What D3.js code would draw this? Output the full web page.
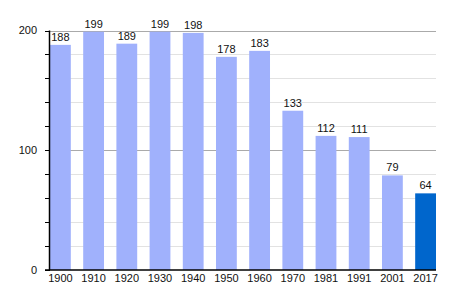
<!DOCTYPE html>
<html>
<head>
<meta charset="utf-8">
<script src="https://cdn.jsdelivr.net/npm/d3@7"></script>
<style>
body { margin: 0; background: #fff; }
text { font-family: "Liberation Sans", Arial, sans-serif; font-size: 11px; fill: #111; }
</style>
</head>
<body>
<svg width="464" height="300"></svg>
<script>
const years = ["1900", "1910", "1920", "1930", "1940", "1950", "1960", "1970", "1981", "1991", "2001", "2017"]
const population = [188, 199, 189, 199, 198, 178, 183, 133, 112, 111, 79, 64]
const y_ticks = [0, 100, 200]

const bar_color = "#a0b1fc"
const last_color = "#0066cc"

const plot_left = 50, plot_right = 436, plot_top = 30.5, plot_bottom = 270

var svg = d3.select("svg")

const x = d3.scaleBand()
    .domain(years)
    .range([plot_left, plot_right])
    .paddingInner(0.373)
    .paddingOuter(0)

const y = d3.scaleLinear()
    .domain([0, 200])
    .range([plot_bottom, plot_top])

// grid lines every 20
svg.append("g")
    .selectAll("line")
    .data(d3.range(20, 201, 20))
    .enter()
    .append("line")
    .attr("x1", plot_left)
    .attr("x2", plot_right)
    .attr("y1", d => Math.round(y(d)) + 0.5)
    .attr("y2", d => Math.round(y(d)) + 0.5)
    .attr("stroke", d => d % 100 === 0 ? "#aaaaaa" : "#e2e2e2")
    .attr("stroke-width", 1)

svg.append("g")
    .selectAll("rect")
    .data(population)
    .enter()
    .append("rect")
    .attr("x", (d, i) => x(years[i]))
    .attr("y", d => y(d))
    .attr("width", x.bandwidth())
    .attr("height", d => plot_bottom - y(d))
    .attr("fill", (d, i) => i === years.length - 1 ? last_color : bar_color)

svg.append("g")
    .selectAll("text")
    .data(population)
    .enter()
    .append("text")
    .attr("x", (d, i) => x(years[i]) + x.bandwidth() / 2)
    .attr("y", d => y(d) - 4)
    .attr("text-anchor", "middle")
    .text(d => d)

// y axis
const y_axis = svg.append("g")
y_axis.append("line")
    .attr("x1", plot_left - 0.5).attr("x2", plot_left - 0.5)
    .attr("y1", plot_top).attr("y2", plot_bottom)
    .attr("stroke", "#000").attr("stroke-width", 1.5)
y_axis.selectAll("line.tick")
    .data(d3.range(0, 201, 20))
    .enter()
    .append("line")
    .attr("class", "tick")
    .attr("x1", plot_left - 5).attr("x2", plot_left)
    .attr("y1", d => Math.round(y(d)) + 0.5)
    .attr("y2", d => Math.round(y(d)) + 0.5)
    .attr("stroke", "#000")
y_axis.selectAll("text")
    .data(y_ticks)
    .enter()
    .append("text")
    .attr("x", 37)
    .attr("y", d => y(d))
    .attr("dy", "0.35em")
    .attr("text-anchor", "end")
    .text(d => d)

// x axis
svg.append("line")
    .attr("x1", plot_left - 5).attr("x2", plot_right)
    .attr("y1", plot_bottom).attr("y2", plot_bottom)
    .attr("stroke", "#000").attr("stroke-width", 1.5)
svg.append("g")
    .selectAll("text")
    .data(years)
    .enter()
    .append("text")
    .attr("x", d => x(d) + x.bandwidth() / 2)
    .attr("y", 282)
    .attr("text-anchor", "middle")
    .text(d => d)
</script>
</body>
</html>
